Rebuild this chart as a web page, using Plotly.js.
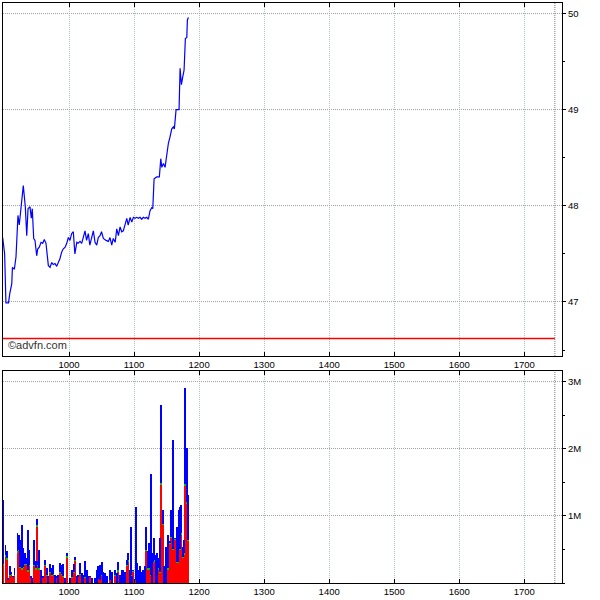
<!DOCTYPE html>
<html>
<head>
<meta charset="utf-8">
<script src="https://cdn.plot.ly/plotly-3.0.1.min.js"></script>
<style>html,body{margin:0;padding:0;background:#fff}#chart{width:600px;height:600px}</style>
</head>
<body>
<div id="chart"></div>
<script>
// ---- price series (time index, price) ----
const priceX = [898,901,903,907,909,912,913,916,918.5,921.5,923.5,926.6,929.7,932.8,935,937,940,942,943.5,945.7,947.7,950.3,951.8,954.3,957,959.5,962,964.6,966.2,968.2,970.8,973.4,975.8,978.5,981,983.5,986,988.8,991,994,996.5,999,1001.5,1004,1006.6,1009,1012,1014,1017,1019.5,1022,1024.6,1027,1029.7,1032,1035,1037.4,1040,1042.6,1045,1047.7,1050,1052.8,1057,1060.5,1063,1065.7,1068,1071,1073.4,1076,1078.5,1081,1083.5,1086,1088.8,1091,1094,1096.5,1099,1101.5,1104.2,1106.6,1109.2,1111.8,1114.3,1116.9,1119.5,1122,1124.6,1127.2,1128.8,1130.8,1134.9,1138.9,1141.1,1142.6,1145.1,1147.7,1150.3,1152.8,1155.4,1158,1160.5,1162,1164.6,1168.2,1169.2,1170.8,1172.8,1174.9,1176.9,1178.9,1181.1,1182,1183.5];
const priceY = [47.67,47.50,46.99,46.99,47.09,47.19,47.36,47.34,47.47,47.90,47.80,48.02,48.21,47.99,47.69,47.97,47.99,47.87,47.97,47.66,47.64,47.48,47.55,47.57,47.62,47.61,47.65,47.61,47.50,47.38,47.36,47.41,47.39,47.40,47.37,47.41,47.45,47.52,47.55,47.57,47.61,47.67,47.64,47.71,47.73,47.50,47.62,47.61,47.63,47.61,47.69,47.74,47.64,47.71,47.59,47.67,47.74,47.62,47.59,47.67,47.69,47.73,47.66,47.64,47.63,47.67,47.59,47.66,47.62,47.76,47.69,47.78,47.73,47.74,47.81,47.87,47.80,47.88,47.83,47.88,47.87,47.88,47.87,47.88,47.86,47.88,47.87,47.88,47.86,47.95,47.98,47.97,48.28,48.30,48.30,48.49,48.40,48.44,48.40,48.54,48.65,48.72,48.80,48.82,48.80,49.00,49.00,49.00,49.43,49.26,49.34,49.41,49.74,49.75,49.93,49.96];
const prevClose = 46.62;
const markerEnd = 1747;

// ---- volume series (millions) ----
const volX = [898.5,902.3,904.1,906.6,908.7,910.8,913.4,916.2,920.8,923.1,924.6,927.7,929.7,932.3,934.9,936.9,938.9,941.1,943.1,946.6,949.2,951.2,952.8,954.3,956.5,959.5,962.6,965.7,968.2,970.8,973.4,975.8,978.5,981.1,983.5,985.7,988.8,991.2,993.8,996.5,1001.5,1005.1,1007.7,1009.7,1011.8,1014.3,1016.9,1019.5,1022.0,1024.6,1027.2,1029.7,1032.3,1034.9,1040.0,1042.6,1045.1,1047.7,1050.3,1052.8,1055.8,1059.0,1063.1,1066.6,1070.8,1073.4,1075.8,1078.5,1081.1,1083.5,1086.2,1088.8,1091.2,1093.8,1095.4,1097.4,1099.0,1102.6,1105.1,1107.2,1109.2,1111.8,1114.3,1116.9,1118.5,1121.1,1123.1,1125.7,1127.2,1129.7,1131.2,1133.4,1134.9,1137.4,1140.0,1142.0,1144.2,1146.2,1148.8,1150.3,1152.8,1155.4,1156.9,1159.5,1160.5,1163.1,1165.7,1167.2,1169.2,1170.8,1172.8,1174.9,1176.9,1178.9,1181.1,1183.1];
const volTotal = [1.24,0.57,0.47,0.07,0.25,0.17,0.11,0.22,0.74,0.72,0.64,0.87,0.52,0.44,0.37,0.79,0.49,0.10,0.07,0.64,0.33,0.95,0.33,0.49,0.20,0.10,0.35,0.22,0.10,0.29,0.22,0.27,0.12,0.11,0.12,0.30,0.27,0.29,0.07,0.45,0.07,0.20,0.29,0.39,0.11,0.12,0.30,0.15,0.12,0.33,0.20,0.11,0.11,0.07,0.07,0.20,0.25,0.27,0.32,0.17,0.15,0.10,0.20,0.17,0.20,0.15,0.32,0.12,0.20,0.20,0.17,0.35,0.44,0.20,0.84,0.10,0.19,1.14,0.30,0.20,0.25,0.17,0.20,0.25,0.84,0.47,0.59,1.62,0.39,0.44,0.67,0.42,0.44,0.37,0.67,2.65,1.09,0.25,0.54,0.42,0.72,0.62,1.09,1.14,2.13,0.67,0.84,0.59,1.09,1.14,1.16,0.54,0.64,2.90,2.01,1.31];
const volRed = [0.27,0.39,0.35,0.05,0.10,0.12,0.09,0.10,0.45,0.47,0.22,0.20,0.22,0.27,0.27,0.17,0.25,0.07,0.00,0.25,0.20,0.84,0.25,0.20,0.00,0.08,0.25,0.10,0.00,0.15,0.10,0.12,0.00,0.07,0.00,0.15,0.12,0.09,0.00,0.38,0.00,0.07,0.15,0.33,0.00,0.09,0.12,0.00,0.00,0.07,0.00,0.00,0.09,0.00,0.00,0.00,0.06,0.05,0.10,0.00,0.00,0.00,0.05,0.00,0.10,0.00,0.17,0.00,0.00,0.00,0.00,0.25,0.32,0.00,0.10,0.00,0.17,0.05,0.00,0.00,0.00,0.00,0.00,0.00,0.47,0.20,0.20,0.10,0.00,0.30,0.32,0.00,0.00,0.20,0.15,1.46,0.86,0.00,0.00,0.20,0.20,0.58,0.67,0.72,0.49,0.64,0.30,0.30,0.49,0.49,0.72,0.37,0.42,1.44,1.18,0.62];
const volGreen = [0.02,0.02,0.02,0.00,0.02,0.02,0.00,0.02,0.02,0.02,0.02,0.02,0.02,0.02,0.02,0.02,0.02,0.00,0.00,0.02,0.02,0.02,0.02,0.02,0.00,0.00,0.02,0.02,0.00,0.02,0.02,0.02,0.00,0.00,0.00,0.02,0.02,0.02,0.00,0.02,0.00,0.02,0.02,0.02,0.00,0.00,0.02,0.00,0.00,0.02,0.00,0.00,0.00,0.00,0.00,0.00,0.00,0.00,0.02,0.00,0.00,0.00,0.00,0.00,0.02,0.00,0.02,0.00,0.00,0.00,0.00,0.02,0.02,0.00,0.02,0.00,0.01,0.00,0.00,0.00,0.00,0.00,0.00,0.00,0.02,0.02,0.02,0.02,0.00,0.02,0.02,0.00,0.00,0.02,0.02,0.03,0.02,0.00,0.00,0.02,0.02,0.02,0.02,0.02,0.02,0.02,0.02,0.02,0.02,0.02,0.02,0.02,0.02,0.03,0.03,0.02];
const volBlue = volTotal.map((t, i) => Math.max(0, t - volRed[i] - volGreen[i]));

// ---- tick labels ----
const xTicks = [1000,1100,1200,1300,1400,1500,1600,1700];
const priceTicks = [47,48,49,50];
const volTickVals = [1,2,3];
const volTickText = ['1M','2M','3M'];

const font = {family: 'Liberation Sans, Arial, sans-serif', size: 9.5, color: '#000'};
const xRange = [898.5, 1758];
const barW = 2.8;

const traces = [
  {type:'scatter', mode:'lines', x: priceX, y: priceY, xaxis:'x', yaxis:'y',
   line:{color:'#0000ff', width:1.2}, hoverinfo:'skip'},
  {type:'bar', x: volX, y: volRed, xaxis:'x2', yaxis:'y2', width: barW,
   marker:{color:'#ff0000', line:{width:0}}},
  {type:'bar', x: volX, y: volGreen, xaxis:'x2', yaxis:'y2', width: barW,
   marker:{color:'#00cc00', line:{width:0}}},
  {type:'bar', x: volX, y: volBlue, xaxis:'x2', yaxis:'y2', width: barW,
   marker:{color:'#0000ff', line:{width:0}}}
];

const xCommon = {
  range: xRange, tickvals: xTicks, showgrid: true, gridcolor: '#a9c2c2', griddash: '1px,1px', gridwidth: 1,
  ticks: 'inside', ticklen: 4, tickcolor: '#000', showline: true, linecolor: '#000', linewidth: 1,
  mirror: 'allticks', zeroline: false, tickfont: font, fixedrange: true
};
const yCommon = {
  side: 'right', showgrid: true, gridcolor: '#a4a4a4', griddash: '1px,1px', gridwidth: 1,
  ticks: 'outside', ticklen: 3, tickcolor: '#000', showline: true, linecolor: '#000', linewidth: 1,
  mirror: true, zeroline: false, tickfont: font
};

const layout = {
  width: 600, height: 600,
  margin: {l: 3, r: 38, t: 3, b: 17},
  paper_bgcolor: '#fff', plot_bgcolor: '#fff',
  showlegend: false, barmode: 'stack', bargap: 0,
  font: font,
  xaxis: Object.assign({}, xCommon, {domain: [0,1], anchor: 'y'}),
  yaxis: Object.assign({}, yCommon, {domain: [0.3914, 1], anchor: 'x', range: [46.438, 50.109], tickvals: priceTicks,
    minor: {dtick: 0.5, ticks: 'outside', ticklen: 2, tickcolor: '#000', showgrid: false}}),
  xaxis2: Object.assign({}, xCommon, {domain: [0,1], anchor: 'y2'}),
  yaxis2: Object.assign({}, yCommon, {domain: [0, 0.366], anchor: 'x2', range: [0, 3.164], tickvals: volTickVals, ticktext: volTickText,
    minor: {dtick: 0.5, ticks: 'outside', ticklen: 2, tickcolor: '#000', showgrid: false}}),
  shapes: [
    {type:'line', xref:'x', yref:'y', x0: xRange[0], x1: markerEnd, y0: prevClose, y1: prevClose,
     line:{color:'#ff0000', width:1.5}},
    {type:'line', xref:'x', yref:'y domain', x0: markerEnd, x1: markerEnd, y0: 0, y1: 1,
     line:{color:'#6f7c7c', width:1, dash:'1px,1px'}},
    {type:'line', xref:'x2', yref:'y2 domain', x0: markerEnd, x1: markerEnd, y0: 0, y1: 1,
     line:{color:'#6f7c7c', width:1, dash:'1px,1px'}}
  ],
  annotations: [
    {xref:'x domain', yref:'y domain', x: 0.006, y: 0.008, xanchor:'left', yanchor:'bottom',
     text:'©advfn.com', showarrow:false, font:{family:'Liberation Sans, Arial, sans-serif', size:11, color:'#333'}}
  ]
};

Plotly.newPlot('chart', traces, layout, {displayModeBar: false, staticPlot: true});
</script>
</body>
</html>
